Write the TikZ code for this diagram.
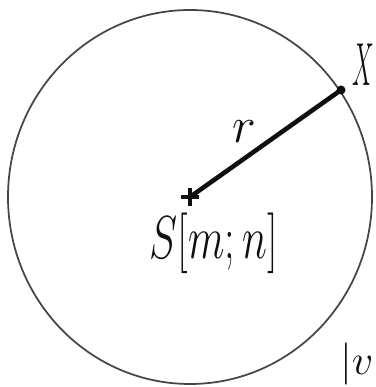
\documentclass[tikz,border=0pt]{standalone}
\usepackage{tikz}
\usetikzlibrary{calc, positioning}
\definecolor{pencil}{RGB}{70, 70, 70}
\definecolor{inkblack}{RGB}{15, 15, 15}

\begin{document}
\begin{tikzpicture}[
    font=\fontsize{18}{22}\selectfont,
    rim/.style={draw=pencil, line width=0.5pt},
    radius line/.style={draw=inkblack, line width=1.3pt},
    centremark/.style={draw=inkblack, line width=1.1pt},
    handlabel/.style={text=inkblack, inner sep=1pt}
]
    \useasboundingbox (0,0) rectangle (3.75,3.87);
    \clip (0,0) rectangle (3.75,3.87);

    \coordinate (S) at (1.90, 1.90);
    \coordinate (X) at (3.41, 2.97);

    \draw[rim] (S) ellipse [x radius=1.82, y radius=1.87];

    \draw[radius line] (S) -- node[handlabel, pos=0.36, above=0.1cm, font=\fontsize{15}{18}\selectfont] (rlabel) {$r$} (X);
    \fill[inkblack] (X) circle (0.045);
    \draw[centremark] ($(S)+(-0.09,0)$) -- ++(0.18,0) ($(S)+(0,-0.09)$) -- ++(0,0.18);

    \node[handlabel, anchor=center] (centre) at ($(S)+(0.24,-0.46)$) {\scalebox{0.7}[1]{$S[m;n]$}};
    \node[handlabel, anchor=east, inner sep=0pt] (xlabel) at (3.75, 3.22) {\scalebox{0.4}[1]{$X$}};
    \node[handlabel, anchor=south east, inner sep=0pt, font=\fontsize{12}{14}\selectfont] (corner) at (3.74, 0.01) {$|v$};
\end{tikzpicture}
\end{document}
